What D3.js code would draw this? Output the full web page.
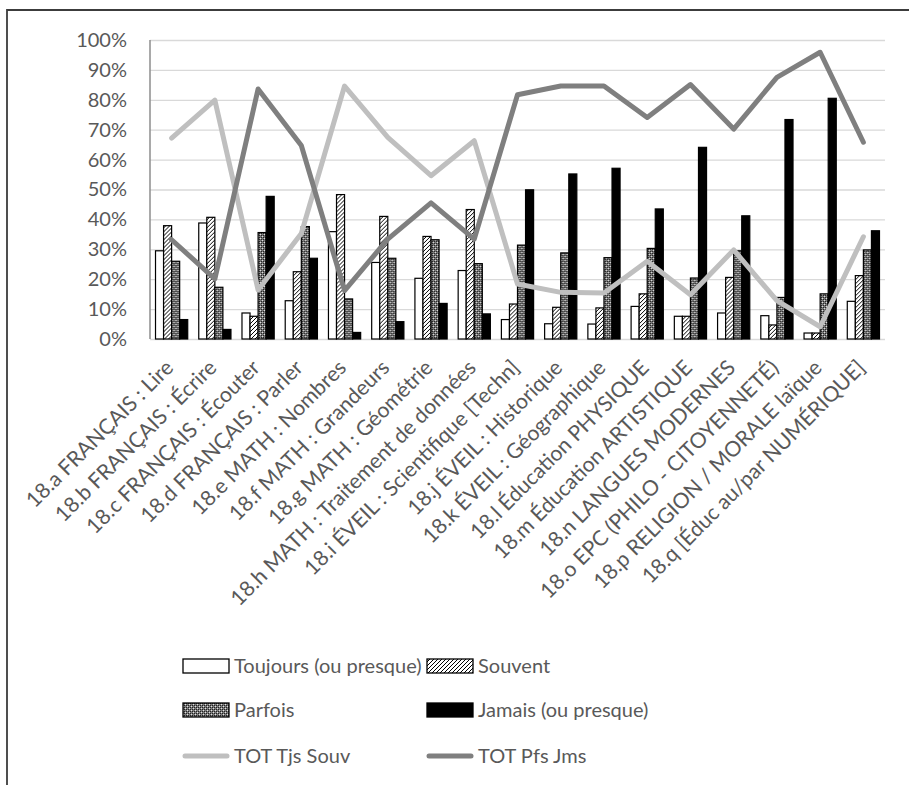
<!DOCTYPE html>
<html>
<head>
<meta charset="utf-8">
<script src="https://cdn.jsdelivr.net/npm/d3@7"></script>
<style>
  html, body { margin: 0; padding: 0; background: #fff; }
  svg { display: block; }
  text { font-family: Lato, "Open Sans", sans-serif; fill: #595959; }
</style>
</head>
<body>
<svg id="chart" width="909" height="785"></svg>
<script>
// Catégories (items 18.a à 18.q)
const categories = [
  "18.a FRANÇAIS : Lire",
  "18.b FRANÇAIS : Écrire",
  "18.c FRANÇAIS : Écouter",
  "18.d FRANÇAIS : Parler",
  "18.e MATH : Nombres",
  "18.f MATH : Grandeurs",
  "18.g MATH : Géométrie",
  "18.h MATH : Traitement de données",
  "18.i ÉVEIL : Scientifique [Techn]",
  "18.j ÉVEIL : Historique",
  "18.k ÉVEIL : Géographique",
  "18.l Éducation PHYSIQUE",
  "18.m Éducation ARTISTIQUE",
  "18.n LANGUES MODERNES",
  "18.o EPC (PHILO - CITOYENNETÉ)",
  "18.p RELIGION / MORALE laïque",
  "18.q [Éduc au/par NUMÉRIQUE]"
];

// Répartition des réponses (en %)
const toujours = [29.5, 38.8, 8.7, 12.8, 35.9, 25.6, 20.3, 22.9, 6.5, 5.1, 5.0, 10.9, 7.6, 8.7, 7.8, 2.0, 12.6];
const souvent  = [37.9, 40.7, 7.6, 22.5, 48.3, 41.0, 34.3, 43.3, 11.7, 10.6, 10.4, 15.1, 7.6, 20.6, 4.7, 2.0, 21.2];
const parfois  = [26.0, 17.3, 35.6, 37.6, 13.4, 27.0, 33.2, 25.2, 31.4, 28.8, 27.2, 30.3, 20.4, 29.5, 13.9, 15.1, 29.8];
const jamais   = [6.5, 3.2, 47.7, 27.0, 2.2, 5.8, 11.9, 8.4, 49.9, 55.2, 57.1, 43.5, 64.1, 41.2, 73.4, 80.5, 36.2];

// Totaux regroupés
const totTjsSouv = [67.2, 79.9, 16.4, 35.3, 84.6, 67.4, 54.6, 66.3, 18.4, 15.6, 15.4, 26.0, 14.8, 29.8, 12.8, 4.1, 34.2];
const totPfsJms  = [33.2, 20.1, 83.6, 64.7, 16.2, 33.4, 45.5, 33.4, 81.7, 84.6, 84.6, 74.1, 85.1, 70.2, 87.5, 95.9, 65.8];

const barSeries = ["Toujours (ou presque)", "Souvent", "Parfois", "Jamais (ou presque)"];
const lineSeries = ["TOT Tjs Souv", "TOT Pfs Jms"];
const yTicks = [0, 10, 20, 30, 40, 50, 60, 70, 80, 90, 100];

const barValues = [toujours, souvent, parfois, jamais];
const lineValues = [totTjsSouv, totPfsJms];

const svg = d3.select("#chart");

// Motifs de remplissage
const defs = svg.append("defs");
const hatch = defs.append("pattern").attr("id", "pat-souvent")
  .attr("patternUnits", "userSpaceOnUse").attr("width", 4).attr("height", 4);
hatch.append("rect").attr("width", 4).attr("height", 4).attr("fill", "#fff");
hatch.append("path").attr("d", "M-1,1 l2,-2 M0,4 l4,-4 M3,5 l2,-2")
  .attr("stroke", "#000").attr("stroke-width", 1);

const checker = defs.append("pattern").attr("id", "pat-parfois")
  .attr("patternUnits", "userSpaceOnUse").attr("width", 4).attr("height", 4);
checker.append("rect").attr("width", 4).attr("height", 4).attr("fill", "#7a7a7a");
[[0, 0], [2, 2]].forEach(([x, y]) => checker.append("rect").attr("x", x).attr("y", y).attr("width", 1).attr("height", 1).attr("fill", "#e0e0e0"));
[[1, 1], [3, 3], [1, 3], [3, 1]].forEach(([x, y]) => checker.append("rect").attr("x", x).attr("y", y).attr("width", 1).attr("height", 1).attr("fill", "#222"));

const barFill = ["#fff", "url(#pat-souvent)", "url(#pat-parfois)", "#000"];
const lineColor = ["#bfbfbf", "#7f7f7f"];

// Cadre
svg.append("path").attr("d", "M7,785 V10 H909")
  .attr("fill", "none").attr("stroke", "#3c3c3c").attr("stroke-width", 1.8);

// Échelles
const plotLeft = 150, plotRight = 885, plotTop = 40, plotBottom = 339;
const x = d3.scaleBand().domain(categories).range([plotLeft, plotRight]);
const groupWidth = x.bandwidth() * 0.745;
const xInner = d3.scaleBand().domain(barSeries).range([0, groupWidth]);
const y = d3.scaleLinear().domain([0, 100]).range([plotBottom, plotTop]);

// Grille horizontale
const grid = svg.append("g")
  .attr("transform", `translate(${plotLeft},0)`)
  .call(d3.axisLeft(y).tickValues(yTicks).tickSize(-(plotRight - plotLeft)).tickFormat(""));
grid.select(".domain").remove();
grid.selectAll("line").attr("stroke", "#d9d9d9").attr("stroke-width", 1.3);

// Libellés de l'axe vertical
const yAxis = svg.append("g")
  .attr("transform", `translate(${plotLeft},0)`)
  .call(d3.axisLeft(y).tickValues(yTicks).tickSize(0).tickPadding(23).tickFormat(d => d + "%"));
yAxis.select(".domain").remove();
yAxis.selectAll("text").attr("font-size", 20).attr("fill", "#595959")
  .style("font-family", "Lato, 'Open Sans', sans-serif");

// Barres
const groups = svg.append("g").selectAll("g")
  .data(categories)
  .join("g")
  .attr("transform", d => `translate(${x(d) + (x.bandwidth() - groupWidth) / 2},0)`);

groups.selectAll("rect")
  .data((d, i) => barSeries.map((s, k) => ({ s, k, v: barValues[k][i] })))
  .join("rect")
  .attr("x", d => xInner(d.s))
  .attr("width", xInner.bandwidth())
  .attr("y", d => y(d.v))
  .attr("height", d => y(0) - y(d.v))
  .attr("fill", d => barFill[d.k])
  .attr("stroke", "#000")
  .attr("stroke-width", 1.2);

// Axe vertical
svg.append("line")
  .attr("x1", plotLeft).attr("x2", plotLeft)
  .attr("y1", plotTop).attr("y2", plotBottom)
  .attr("stroke", "#8c8c8c").attr("stroke-width", 1.5);

// Courbes des totaux
const line = d3.line()
  .x((d, i) => x(categories[i]) + x.bandwidth() / 2)
  .y(d => y(d));

svg.append("g").selectAll("path")
  .data(lineValues)
  .join("path")
  .attr("d", d => line(d))
  .attr("fill", "none")
  .attr("stroke", (d, k) => lineColor[k])
  .attr("stroke-width", 5)
  .attr("stroke-linejoin", "round")
  .attr("stroke-linecap", "round");

// Libellés des catégories (inclinés à 45°)
svg.append("g").selectAll("text")
  .data(categories)
  .join("text")
  .attr("transform", d => `translate(${x(d) + x.bandwidth() / 2 + 3},${369}) rotate(-45)`)
  .attr("text-anchor", "end")
  .attr("font-size", 21.2)
  .text(d => d);

// Légende
const legendItems = [
  { name: barSeries[0], type: "bar", k: 0, col: 0, row: 0 },
  { name: barSeries[1], type: "bar", k: 1, col: 1, row: 0 },
  { name: barSeries[2], type: "bar", k: 2, col: 0, row: 1 },
  { name: barSeries[3], type: "bar", k: 3, col: 1, row: 1 },
  { name: lineSeries[0], type: "line", k: 0, col: 0, row: 2 },
  { name: lineSeries[1], type: "line", k: 1, col: 1, row: 2 }
];
const legendX = [183, 427], legendY = [666, 710, 756];
const legend = svg.append("g").selectAll("g")
  .data(legendItems)
  .join("g")
  .attr("transform", d => `translate(${legendX[d.col]},${legendY[d.row]})`);

legend.filter(d => d.type === "bar").append("rect")
  .attr("x", 0).attr("y", -7).attr("width", 46).attr("height", 14)
  .attr("fill", d => barFill[d.k])
  .attr("stroke", "#000").attr("stroke-width", 1.3);

legend.filter(d => d.type === "line").append("line")
  .attr("x1", 2).attr("x2", 44).attr("y1", 0).attr("y2", 0)
  .attr("stroke", d => lineColor[d.k])
  .attr("stroke-width", 5).attr("stroke-linecap", "round");

legend.append("text")
  .attr("x", 51).attr("y", 0).attr("dy", "0.35em")
  .attr("font-size", 20)
  .text(d => d.name);
</script>
</body>
</html>
